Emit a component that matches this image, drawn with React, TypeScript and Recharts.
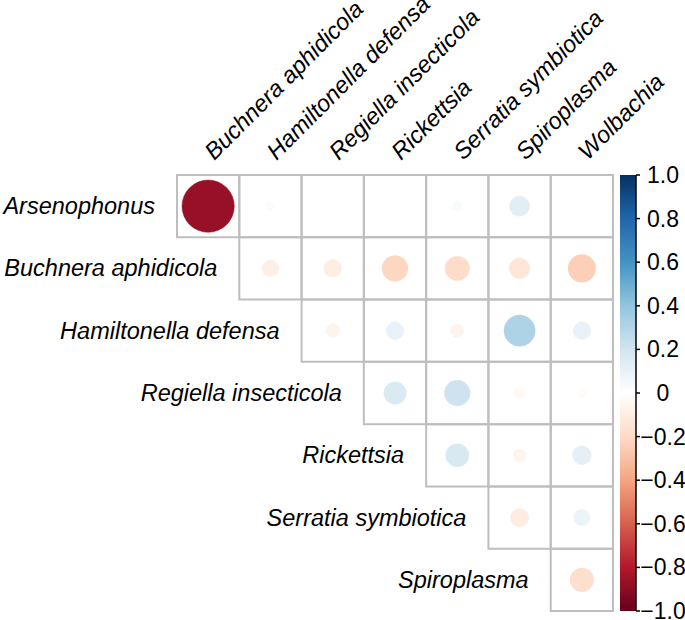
import React from 'react';
import { ScatterChart, Scatter, XAxis, YAxis, ZAxis, ReferenceArea } from 'recharts';

// Row species (top to bottom) and column species (left to right)
const rowLabels = [
  'Arsenophonus',
  'Buchnera aphidicola',
  'Hamiltonella defensa',
  'Regiella insecticola',
  'Rickettsia',
  'Serratia symbiotica',
  'Spiroplasma',
];
const colLabels = [
  'Buchnera aphidicola',
  'Hamiltonella defensa',
  'Regiella insecticola',
  'Rickettsia',
  'Serratia symbiotica',
  'Spiroplasma',
  'Wolbachia',
];

// Correlations, each row starts at the column with the same index (upper triangle)
const arsenophonusRow = [-0.87, -0.024, -0.008, 0, 0.032, 0.13, 0];
const buchneraRow = [-0.09, -0.1, -0.215, -0.19, -0.136, -0.243];
const hamiltonellaRow = [-0.06, 0.1, -0.06, 0.31, 0.1];
const regiellaRow = [0.16, 0.21, -0.04, -0.03];
const rickettsiaRow = [0.17, -0.054, 0.115];
const serratiaRow = [-0.107, 0.085];
const spiroplasmaRow = [-0.18];

const rowValues = [
  arsenophonusRow,
  buchneraRow,
  hamiltonellaRow,
  regiellaRow,
  rickettsiaRow,
  serratiaRow,
  spiroplasmaRow,
];

// Colour legend ticks
const legendValues = [1, 0.8, 0.6, 0.4, 0.2, 0, -0.2, -0.4, -0.6, -0.8, -1];
const legendLabels = ['1.0', '0.8', '0.6', '0.4', '0.2', '0', '\u22120.2', '\u22120.4', '\u22120.6', '\u22120.8', '\u22121.0'];

// corrplot RdBu palette from -1 to 1
const palette = ['#67001F', '#B2182B', '#D6604D', '#F4A582', '#FDDBC7', '#FFFFFF', '#D1E5F0', '#92C5DE', '#4393C3', '#2166AC', '#053061'];

function hexToRgb(h: string) {
  return [parseInt(h.slice(1, 3), 16), parseInt(h.slice(3, 5), 16), parseInt(h.slice(5, 7), 16)];
}
function colorFor(v: number) {
  const t = Math.max(0, Math.min(1, (v + 1) / 2)) * (palette.length - 1);
  const i = Math.min(palette.length - 2, Math.floor(t));
  const f = t - i;
  const a = hexToRgb(palette[i]);
  const b = hexToRgb(palette[i + 1]);
  const c = a.map((x, k) => Math.round(x + (b[k] - x) * f));
  return `rgb(${c[0]},${c[1]},${c[2]})`;
}

const cells: { x: number; y: number; r: number; z: number }[] = [];
const gridCells: { i: number; j: number }[] = [];
rowValues.forEach((vals, i) => {
  vals.forEach((v, k) => {
    const j = i + k;
    gridCells.push({ i, j });
    cells.push({ x: j + 0.5, y: i + 0.5, r: v, z: Math.abs(v) });
  });
});

const rowLabelPts = rowLabels.map((label, i) => ({ x: i, y: i + 0.5, label }));
const colLabelPts = colLabels.map((label, j) => ({ x: j + 0.5, y: 0, label }));

const FONT = '"Liberation Sans", Arial, Helvetica, sans-serif';
const LABEL_SIZE = 23.5;

const CircleShape = (props: any) => {
  const { cx, cy, size, payload } = props;
  const rad = Math.sqrt(Math.max(size || 0, 0) / Math.PI);
  if (!rad) return <g />;
  const col = colorFor(payload.r);
  return <circle cx={cx} cy={cy} r={rad} fill={col} stroke={col} strokeWidth={0.5} />;
};

const RowLabel = (props: any) => {
  const { cx, cy, payload } = props;
  return (
    <text x={cx - 22} y={cy} textAnchor="end" dominantBaseline="central" fontFamily={FONT} fontStyle="italic" fontSize={LABEL_SIZE} fill="#000">
      {payload.label}
    </text>
  );
};

const ColLabel = (props: any) => {
  const { cx, cy, payload } = props;
  const x = cx + 6;
  const y = cy - 14;
  return (
    <text x={x} y={y} transform={`rotate(-45, ${x}, ${y})`} textAnchor="start" fontFamily={FONT} fontStyle="italic" fontSize={LABEL_SIZE} fill="#000">
      {payload.label}
    </text>
  );
};

const BAR_X = 620;
const BAR_W = 16;
const BAR_TOP = 175;
const BAR_BOTTOM = 611;

export default function App() {
  const barH = BAR_BOTTOM - BAR_TOP;
  return (
    <div style={{ position: 'absolute', left: 0, top: 0, width: 685, height: 620, background: '#fff' }}>
      <ScatterChart width={685} height={620} margin={{ top: 175, right: 72, bottom: 9, left: 177 }}>
        <XAxis type="number" dataKey="x" domain={[0, 7]} hide />
        <YAxis type="number" dataKey="y" domain={[0, 7]} reversed hide />
        <ZAxis type="number" dataKey="z" domain={[0, 1]} range={[0, 2468]} />
        {gridCells.map((c) => (
          <ReferenceArea
            key={`g-${c.i}-${c.j}`}
            x1={c.j}
            x2={c.j + 1}
            y1={c.i}
            y2={c.i + 1}
            fill="#fff"
            fillOpacity={0}
            stroke="#BEBEBE"
            strokeWidth={2}
            strokeOpacity={1}
            ifOverflow="visible"
          />
        ))}
        <Scatter data={cells} shape={CircleShape} isAnimationActive={false} />
        <Scatter data={rowLabelPts} shape={RowLabel} isAnimationActive={false} />
        <Scatter data={colLabelPts} shape={ColLabel} isAnimationActive={false} />
      </ScatterChart>
      <svg width={685} height={620} style={{ position: 'absolute', left: 0, top: 0, pointerEvents: 'none' }}>
        <defs>
          <linearGradient id="cbar" x1="0" y1="1" x2="0" y2="0">
            {palette.map((c, k) => (
              <stop key={k} offset={k / (palette.length - 1)} stopColor={c} />
            ))}
          </linearGradient>
        </defs>
        <rect x={BAR_X} y={BAR_TOP} width={BAR_W} height={barH} fill="url(#cbar)" />
        <line x1={BAR_X + BAR_W} y1={BAR_TOP} x2={BAR_X + BAR_W} y2={BAR_BOTTOM} stroke="#000" strokeWidth={1.5} />
        {legendValues.map((v, k) => {
          const y = BAR_TOP + ((1 - v) / 2) * barH;
          return (
            <g key={k}>
              <line x1={BAR_X + BAR_W} y1={y} x2={BAR_X + BAR_W + 4} y2={y} stroke="#000" strokeWidth={1.5} />
              <text x={663} y={y} textAnchor="middle" dominantBaseline="central" fontFamily={FONT} fontSize={23} fill="#000">
                {legendLabels[k]}
              </text>
            </g>
          );
        })}
      </svg>
    </div>
  );
}
